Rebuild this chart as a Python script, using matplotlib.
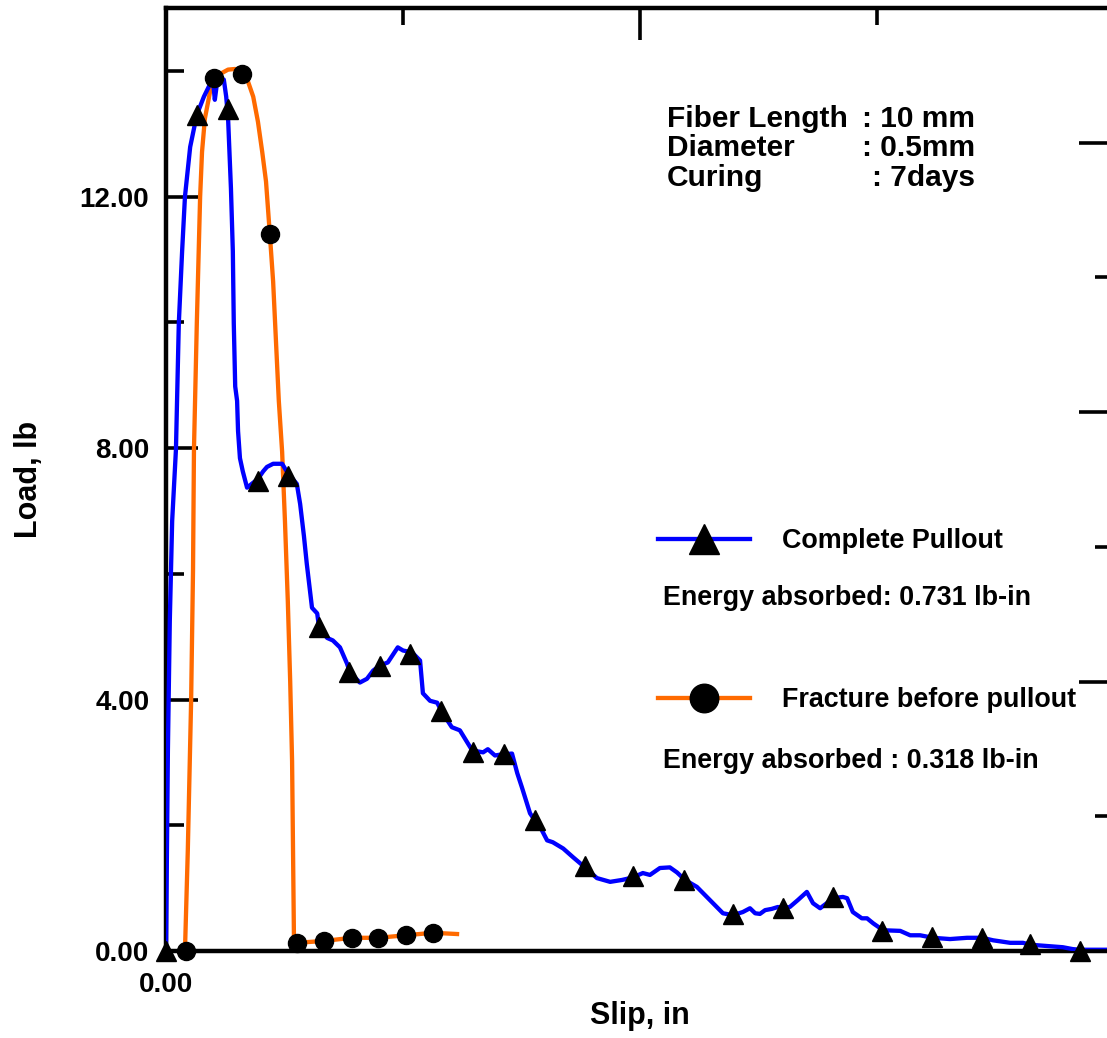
import matplotlib
matplotlib.use("Agg")
import matplotlib.pyplot as plt
from matplotlib.lines import Line2D

plt.rcParams['font.family'] = ['Liberation Sans', 'DejaVu Sans']
plt.rcParams['font.weight'] = 'bold'

# ---------------- data ----------------
# Complete pullout curve (slip in, load lb)
blue_slip = [0.0000, 0.0002, 0.0004, 0.0008, 0.0013, 0.0021, 0.0027, 0.0034, 0.0040, 0.0051,
             0.0065, 0.0080, 0.0093, 0.0099, 0.0103, 0.0108, 0.0116, 0.0122, 0.0127, 0.0131,
             0.0137, 0.0141, 0.0143, 0.0146, 0.0150, 0.0152, 0.0156, 0.0162, 0.0171, 0.0181,
             0.0194, 0.0205, 0.0213, 0.0226, 0.0245, 0.0257, 0.0276, 0.0283, 0.0291, 0.0297,
             0.0308, 0.0319, 0.0323, 0.0340, 0.0352, 0.0367, 0.0382, 0.0388, 0.0409, 0.0424,
             0.0437, 0.0451, 0.0468, 0.0489, 0.0500, 0.0519, 0.0536, 0.0542, 0.0557, 0.0572,
             0.0584, 0.0603, 0.0620, 0.0646, 0.0669, 0.0679, 0.0694, 0.0711, 0.0730, 0.0741,
             0.0751, 0.0768, 0.0778, 0.0793, 0.0804, 0.0816, 0.0838, 0.0859, 0.0884, 0.0909,
             0.0937, 0.0962, 0.0985, 0.1006, 0.1021, 0.1042, 0.1063, 0.1078, 0.1095, 0.1120,
             0.1141, 0.1162, 0.1175, 0.1196, 0.1217, 0.1232, 0.1243, 0.1253, 0.1264, 0.1278,
             0.1291, 0.1302, 0.1316, 0.1333, 0.1352, 0.1365, 0.1380, 0.1394, 0.1407, 0.1428,
             0.1437, 0.1449, 0.1468, 0.1479, 0.1492, 0.1513, 0.1549, 0.1570, 0.1591, 0.1618,
             0.1654, 0.1690, 0.1722, 0.1745, 0.1781, 0.1808, 0.1823, 0.1859, 0.1892, 0.1913,
             0.1928, 0.1985, 0.2000]
blue_load = [0.00, 1.60, 3.19, 5.25, 6.84, 7.98, 9.98, 11.13, 12.00, 12.79,
             13.30, 13.59, 13.79, 13.86, 13.54, 13.83, 13.89, 13.86, 13.59, 13.24,
             12.13, 11.13, 9.98, 8.98, 8.75, 8.27, 7.84, 7.63, 7.37, 7.43,
             7.51, 7.63, 7.70, 7.75, 7.75, 7.60, 7.43, 7.11, 6.60, 6.16,
             5.46, 5.37, 5.14, 4.98, 4.94, 4.83, 4.57, 4.43, 4.27, 4.33,
             4.46, 4.54, 4.59, 4.83, 4.78, 4.75, 4.62, 4.10, 3.98, 3.95,
             3.78, 3.56, 3.51, 3.19, 3.16, 3.21, 3.11, 3.13, 3.14, 2.83,
             2.60, 2.19, 2.08, 1.92, 1.76, 1.73, 1.63, 1.49, 1.33, 1.16,
             1.10, 1.13, 1.17, 1.24, 1.21, 1.32, 1.33, 1.25, 1.13, 1.02,
             0.86, 0.70, 0.60, 0.57, 0.62, 0.68, 0.60, 0.59, 0.65, 0.67,
             0.70, 0.68, 0.70, 0.81, 0.94, 0.76, 0.68, 0.76, 0.84, 0.86,
             0.84, 0.62, 0.52, 0.52, 0.44, 0.33, 0.32, 0.25, 0.25, 0.21,
             0.19, 0.21, 0.21, 0.17, 0.13, 0.13, 0.10, 0.08, 0.06, 0.03,
             0.02, 0.02, 0.02]
blue_mark_slip = [0.0000, 0.0065, 0.0131, 0.0194, 0.0257, 0.0323, 0.0386, 0.0451, 0.0515, 0.0580,
                  0.0648, 0.0713, 0.0778, 0.0884, 0.0985, 0.1093, 0.1196, 0.1302, 0.1407, 0.1511,
                  0.1616, 0.1722, 0.1823, 0.1928]
blue_mark_load = [0.00, 13.30, 13.40, 7.48, 7.56, 5.16, 4.44, 4.54, 4.73, 3.81,
                  3.16, 3.14, 2.08, 1.35, 1.19, 1.13, 0.59, 0.68, 0.86, 0.32,
                  0.22, 0.21, 0.11, 0.00]

# Fracture before pullout curve
orange_slip = [0.0040, 0.0046, 0.0053, 0.0057, 0.0059, 0.0065, 0.0072, 0.0076, 0.0082, 0.0093,
               0.0101, 0.0114, 0.0131, 0.0146, 0.0160, 0.0173, 0.0184, 0.0194, 0.0203, 0.0211,
               0.0219, 0.0226, 0.0232, 0.0238, 0.0245, 0.0251, 0.0257, 0.0262, 0.0266, 0.0268,
               0.0270, 0.0276, 0.0333, 0.0392, 0.0447, 0.0506, 0.0563, 0.0614]
orange_load = [0.00, 1.60, 3.98, 6.05, 7.98, 9.98, 12.00, 12.71, 13.24, 13.67,
               13.86, 13.95, 14.02, 14.03, 13.98, 13.83, 13.59, 13.19, 12.71, 12.24,
               11.41, 10.65, 9.70, 8.75, 7.94, 6.83, 5.56, 4.29, 3.02, 1.60,
               0.16, 0.13, 0.16, 0.21, 0.21, 0.25, 0.29, 0.27]
orange_mark_slip = [0.0042, 0.0101, 0.0160, 0.0219, 0.0276, 0.0333, 0.0392, 0.0447, 0.0506, 0.0563]
orange_mark_load = [0.00, 13.89, 13.95, 11.41, 0.13, 0.16, 0.21, 0.21, 0.25, 0.29]

y_major = [0, 4, 8, 12]
y_minor = [2, 6, 10, 14]
y_labels = ['0.00', '4.00', '8.00', '12.00']
x_major = [0.0, 0.1, 0.2]
x_minor = [0.05, 0.15]
x_labels = ['0.00', '', '']

series_labels = ['Complete Pullout', 'Fracture before pullout']
energy_texts = ['Energy absorbed: 0.731 lb-in', 'Energy absorbed : 0.318 lb-in']
info_left = ['Fiber Length', 'Diameter', 'Curing']
info_right = [': 10 mm', ': 0.5mm', ': 7days']

BLUE = '#0000FF'
ORANGE = '#FF6A00'

# ---------------- figure ----------------
W, H = 1107, 1038
fig = plt.figure(figsize=(W / 100, H / 100), dpi=100)
L, R, T, B = 166, 1114, 8, 951
ax = fig.add_axes([L / W, 1 - B / H, (R - L) / W, (B - T) / H])

ax.plot(orange_slip, orange_load, color=ORANGE, lw=3.1, zorder=2, solid_joinstyle='round')
ax.plot(blue_slip, blue_load, color=BLUE, lw=3.1, zorder=3, solid_joinstyle='round')
ax.plot(orange_mark_slip, orange_mark_load, ls='none', marker='o', ms=13,
        mfc='black', mec='black', zorder=4, clip_on=False)
ax.plot(blue_mark_slip, blue_mark_load, ls='none', marker='^', ms=14,
        mfc='black', mec='black', zorder=4, clip_on=False)

ax.set_xlim(0, 0.2)
ax.set_ylim(0, 15)

ax.set_xticks(x_major)
ax.set_xticklabels(x_labels)
ax.set_xticks(x_minor, minor=True)
ax.set_yticks(y_major)
ax.set_yticklabels(y_labels)
ax.set_yticks(y_minor, minor=True)

ax.tick_params(axis='x', which='both', direction='in', bottom=False, top=True,
               labelbottom=True, labeltop=False, width=2.6)
ax.tick_params(axis='x', which='major', length=23, pad=15, labelsize=20)
ax.tick_params(axis='x', which='minor', length=12)
ax.tick_params(axis='y', which='both', direction='in', left=True, right=False, width=2.6)
ax.tick_params(axis='y', which='major', length=23, pad=12, labelsize=20)
ax.tick_params(axis='y', which='minor', length=13)

for lab in ax.get_xticklabels() + ax.get_yticklabels():
    lab.set_fontweight('bold')

for s in ['left', 'bottom', 'top']:
    ax.spines[s].set_linewidth(3.2)
ax.spines['right'].set_visible(False)

ax.set_xlabel('Slip, in', fontsize=22, fontweight='bold', labelpad=2)
ax.set_ylabel('Load, lb', fontsize=22, fontweight='bold', labelpad=26)

# right-hand secondary tick scale (no labels)
ax2 = ax.twinx()
ax2.set_ylim(0, 7)
ax2.set_yticks([0, 2, 4, 6])
ax2.set_yticks([1, 3, 5, 7], minor=True)
ax2.tick_params(axis='y', which='both', direction='in', right=True, left=False,
                labelright=False, width=2.6)
ax2.tick_params(axis='y', which='major', length=25)
ax2.tick_params(axis='y', which='minor', length=14)
for s in ax2.spines.values():
    s.set_visible(False)

# legend
handles = [
    Line2D([], [], color=BLUE, lw=3.1, marker='^', ms=14, mfc='black', mec='black'),
    Line2D([], [], color=ORANGE, lw=3.1, marker='o', ms=13, mfc='black', mec='black'),
]
leg = ax.legend(handles, series_labels, loc='upper left',
                bbox_to_anchor=(658 / W, 1 - 528 / H), bbox_transform=fig.transFigure,
                frameon=False, handlelength=3.4, handletextpad=1.2,
                labelspacing=4.95, borderpad=0, borderaxespad=0, markerscale=1.58,
                prop={'weight': 'bold', 'size': 19.4})

# energy texts
for txt, yb in zip(energy_texts, [605, 768]):
    fig.text(663 / W, 1 - yb / H, txt, fontsize=19.4, fontweight='bold',
             ha='left', va='baseline')

# specimen info
for lt, rt, yb in zip(info_left, info_right, [127, 156, 186]):
    fig.text(667 / W, 1 - yb / H, lt, fontsize=21.5, fontweight='bold', ha='left', va='baseline')
    fig.text(975 / W, 1 - yb / H, rt, fontsize=21.5, fontweight='bold', ha='right', va='baseline')

fig.savefig('out.png', dpi=100)
